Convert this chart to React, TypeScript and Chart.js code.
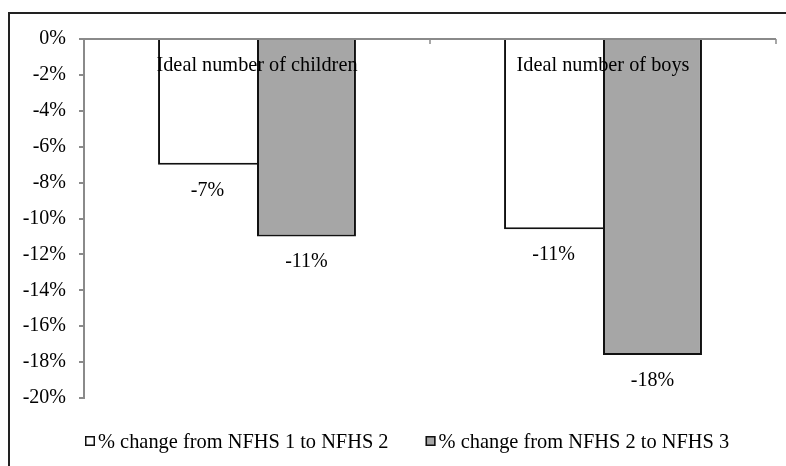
import { useEffect, useRef } from "react";
import { Chart, registerables } from "chart.js";

Chart.register(...registerables);

// Survey change in reported ideals, by period
const categories = ["Ideal number of children", "Ideal number of boys"];
const seriesNames = ["% change from NFHS 1 to NFHS 2", "% change from NFHS 2 to NFHS 3"];
const change1to2 = [-7.0, -10.6];
const change2to3 = [-11.0, -17.6];
const yMin = -20;
const yMax = 0;
const yStep = 2;

const FONT = "'Liberation Serif', 'Times New Roman', serif";
const AXIS = "#8a8a8a";
const INK = "#000000";
const EDGE = "#111111";

const annotate = {
  id: "annotate",
  afterDatasetsDraw(chart: any) {
    const { ctx } = chart;
    const xs = chart.scales.x;
    const ys = chart.scales.y;
    const zeroY = ys.getPixelForValue(0);
    ctx.save();

    // small tick marks on the zero line between categories
    const bounds: number[] = [xs.left];
    for (let i = 1; i < categories.length; i++) {
      bounds.push((xs.getPixelForValue(i - 1) + xs.getPixelForValue(i)) / 2);
    }
    bounds.push(xs.right);
    ctx.strokeStyle = AXIS;
    ctx.lineWidth = 1.5;
    ctx.beginPath();
    bounds.forEach((b) => {
      ctx.moveTo(b, zeroY);
      ctx.lineTo(b, zeroY + 5);
    });
    ctx.stroke();

    // category names just under the zero line
    ctx.font = `20.3px ${FONT}`;
    ctx.fillStyle = INK;
    ctx.textAlign = "center";
    ctx.textBaseline = "alphabetic";
    categories.forEach((c, i) => {
      ctx.fillText(c, xs.getPixelForValue(i), zeroY + 32);
    });

    // value labels under each bar
    ctx.font = `20px ${FONT}`;
    chart.data.datasets.forEach((ds: any, di: number) => {
      const meta = chart.getDatasetMeta(di);
      meta.data.forEach((bar: any, i: number) => {
        const v = ds.data[i] as number;
        ctx.fillText(`${v.toFixed(0)}%`, bar.x, bar.y + 31);
      });
    });
    ctx.restore();
  },
};

// one-row key below the plot: small square, then the series name
const seriesKey = {
  id: "seriesKey",
  afterDraw(chart: any) {
    const { ctx, chartArea } = chart;
    ctx.save();
    ctx.font = `20.4px ${FONT}`;
    ctx.textAlign = "left";
    ctx.textBaseline = "alphabetic";
    const baseline = chartArea.bottom + 50;
    const boxTop = baseline - 12;
    let x = chartArea.left + 1;
    chart.data.datasets.forEach((ds: any) => {
      ctx.fillStyle = ds.backgroundColor;
      ctx.fillRect(x, boxTop, 10, 10);
      ctx.strokeStyle = EDGE;
      ctx.lineWidth = 1.5;
      ctx.strokeRect(x + 0.75, boxTop + 0.75, 8.5, 8.5);
      ctx.fillStyle = INK;
      ctx.fillText(ds.label, x + 13, baseline);
      x += 13 + ctx.measureText(ds.label).width + 37;
    });
    ctx.restore();
  },
};

export default function App() {
  const canvasRef = useRef<HTMLCanvasElement | null>(null);

  useEffect(() => {
    const canvas = canvasRef.current;
    if (!canvas) return;
    const chart = new Chart(canvas, {
      type: "bar",
      data: {
        labels: categories,
        datasets: [
          {
            label: seriesNames[0],
            data: change1to2,
            backgroundColor: "#ffffff",
            borderColor: EDGE,
            borderWidth: { top: 0, right: 0, bottom: 2, left: 2 },
          },
          {
            label: seriesNames[1],
            data: change2to3,
            backgroundColor: "#a6a6a6",
            borderColor: EDGE,
            borderWidth: { top: 0, right: 2, bottom: 2, left: 2 },
          },
        ],
      },
      options: {
        animation: false,
        responsive: false,
        devicePixelRatio: 1,
        datasets: {
          bar: { categoryPercentage: 0.572, barPercentage: 1 },
        },
        layout: { padding: { left: 0, right: 10, top: 23, bottom: 68 } },
        plugins: {
          legend: { display: false },
          tooltip: { enabled: false },
        },
        scales: {
          x: { display: false },
          y: {
            min: yMin,
            max: yMax,
            afterFit: (scale: any) => {
              scale.width = 74;
            },
            ticks: {
              stepSize: yStep,
              padding: 13,
              color: INK,
              font: { family: FONT, size: 20 },
              callback: (v: any) => `${v}%`,
            },
            grid: {
              color: (c: any) => (c.tick && c.tick.value === 0 ? AXIS : "rgba(0,0,0,0)"),
              lineWidth: 2,
              tickColor: AXIS,
              tickLength: 5,
              drawTicks: true,
            },
            border: { display: true, color: AXIS, width: 2 },
          },
        },
      },
      plugins: [annotate, seriesKey],
    });
    return () => chart.destroy();
  }, []);

  return (
    <div
      style={{
        position: "absolute",
        left: 8,
        top: 12,
        width: 778,
        height: 454,
        boxSizing: "border-box",
        borderTop: "2px solid #222",
        borderLeft: "2px solid #222",
        background: "#fff",
      }}
    >
      <canvas ref={canvasRef} width={776} height={452} style={{ display: "block" }} />
    </div>
  );
}
